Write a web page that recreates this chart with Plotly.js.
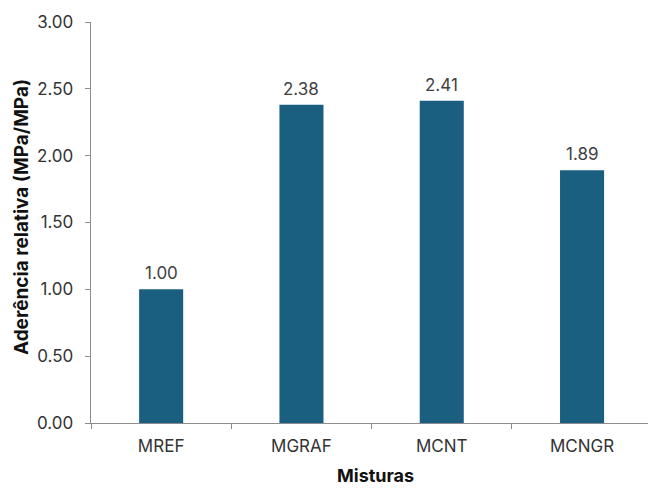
<!DOCTYPE html>
<html>
<head>
<meta charset="utf-8">
<script src="https://cdn.plot.ly/plotly-3.0.1.min.js"></script>
<style>
  html, body { margin: 0; padding: 0; background: #ffffff; }
  #chart { width: 648px; height: 488px; }
</style>
</head>
<body>
<div id="chart"></div>
<script>
// Mixtures and their relative bond strength (MPa/MPa)
const misturas = ["MREF", "MGRAF", "MCNT", "MCNGR"];
const aderencia = [1.00, 2.38, 2.41, 1.89];
const yTicks = [0, 0.5, 1.0, 1.5, 2.0, 2.5, 3.0];

const FONT = "Inter, Liberation Sans, Arial, sans-serif";
const AXIS_GREY = "#8c8c8c";

const trace = {
  type: "bar",
  x: misturas,
  y: aderencia,
  marker: { color: "#1a5e80" },
  cliponaxis: false,
  hoverinfo: "x+y"
};

// value labels sitting just above each bar
const valueLabels = misturas.map((m, i) => ({
  x: m,
  y: aderencia[i],
  xref: "x", yref: "y",
  text: aderencia[i].toFixed(2),
  showarrow: false,
  yanchor: "bottom",
  yshift: 4,
  font: { family: FONT, size: 17, color: "#404040" }
}));

const layout = {
  width: 648,
  height: 488,
  margin: { l: 91, r: 0, t: 22, b: 65 },
  paper_bgcolor: "#ffffff",
  plot_bgcolor: "#ffffff",
  showlegend: false,
  bargap: 0.686,
  font: { family: FONT, size: 17, color: "#333333" },
  xaxis: {
    type: "category",
    range: [-0.5, 3.47],
    showline: true,
    linecolor: AXIS_GREY,
    linewidth: 1.3,
    ticks: "outside",
    tickson: "boundaries",
    ticklen: 5,
    tickcolor: AXIS_GREY,
    showgrid: false,
    zeroline: false,
    ticklabelstandoff: 7,
    tickfont: { family: FONT, size: 17, color: "#333333" }
  },
  yaxis: {
    range: [0, 3],
    tickvals: yTicks,
    tickformat: ".2f",
    showline: true,
    linecolor: AXIS_GREY,
    linewidth: 1.3,
    ticks: "outside",
    ticklen: 5,
    tickcolor: AXIS_GREY,
    showgrid: false,
    zeroline: false,
    ticklabelstandoff: 8,
    tickfont: { family: FONT, size: 17, color: "#333333" }
  },
  annotations: valueLabels.concat([
    {
      text: "<b>Aderência relativa (MPa/MPa)</b>",
      xref: "paper", yref: "paper",
      x: -0.126, y: 0.513,
      xanchor: "center", yanchor: "middle",
      textangle: -90,
      showarrow: false,
      font: { family: FONT, size: 19, color: "#111111" }
    },
    {
      text: "<b>Misturas</b>",
      xref: "paper", yref: "paper",
      x: 0.51, y: -0.132,
      xanchor: "center", yanchor: "middle",
      showarrow: false,
      font: { family: FONT, size: 18, color: "#111111" }
    }
  ])
};

Plotly.newPlot("chart", [trace], layout, { displayModeBar: false, staticPlot: true });
</script>
</body>
</html>
